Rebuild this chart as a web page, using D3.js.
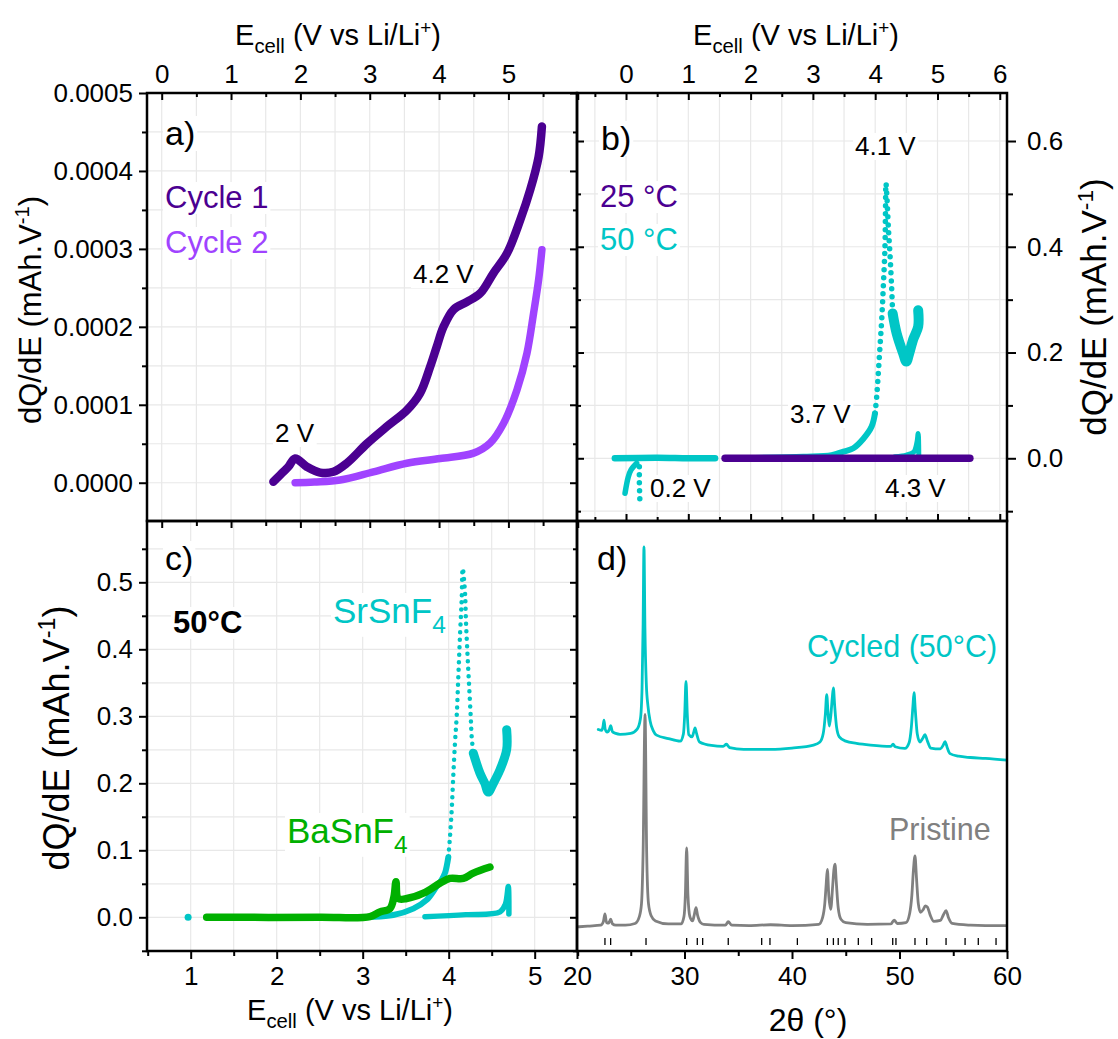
<!DOCTYPE html>
<html><head><meta charset="utf-8">
<script src="https://cdn.jsdelivr.net/npm/d3@7"></script>
<style>body{margin:0;background:#fff}</style>
</head><body>
<svg id="c" width="1118" height="1039" xmlns="http://www.w3.org/2000/svg"></svg>
<script>
// ---------------- DATA ----------------
// panel a : dQ/dE (mAh/V) vs Ecell (V)
const aCycle1 = [[1.61,0.0000013],[1.683,0.0000077],[1.755,0.0000140],[1.827,0.0000205],[1.924,0.0000310],[2.092,0.0000205],[2.284,0.0000130],[2.476,0.0000140],[2.669,0.0000250],[2.958,0.0000500],[3.247,0.0000720],[3.535,0.0000930],[3.727,0.0001150],[3.872,0.0001490],[3.968,0.0001750],[4.064,0.0002000],[4.208,0.0002220],[4.401,0.0002320],[4.593,0.0002430],[4.785,0.0002690],[4.978,0.0002940],[5.170,0.0003370],[5.315,0.0003760],[5.435,0.0004180],[5.483,0.0004570]];
const aCycle2 = [[1.924,0.0000000],[2.200,0.0000010],[2.573,0.0000035],[3.053,0.0000140],[3.535,0.0000250],[4.016,0.0000310],[4.497,0.0000380],[4.737,0.0000510],[4.929,0.0000760],[5.123,0.0001190],[5.267,0.0001660],[5.362,0.0002170],[5.435,0.0002600],[5.483,0.0002990]];
// panel b
const b25 = [[1.59,0],[3.0,0],[4.5,0],[5.52,0]];
const b50Low = [[-0.18,0],[0.5,0.001],[1.0,0],[1.43,0]];
const b50Dip = [[0.171,-0.0095],[0.080,-0.022],[0.037,-0.035],[-0.016,-0.066]];
const b50DipDots = [[0.214,-0.016],[0.214,-0.045],[0.222,-0.079]];
const b50Foot = [[1.60,0],[2.846,0.003],[3.300,0.006],[3.488,0.0125],[3.649,0.019],[3.810,0.037],[3.943,0.060],[3.997,0.085]];
const b50Peak = [[3.997,0.085],[4.024,0.116],[4.050,0.161],[4.077,0.211],[4.104,0.261],[4.130,0.324],[4.157,0.400],[4.165,0.463],[4.173,0.520],[4.190,0.490],[4.210,0.440],[4.240,0.380],[4.265,0.320],[4.280,0.274]];
const b50Valley = [[4.280,0.274],[4.345,0.236],[4.450,0.198],[4.500,0.183],[4.550,0.200],[4.610,0.225],[4.690,0.249],[4.690,0.280]];
const b50Spike = [[4.318,0.003],[4.500,0.006],[4.620,0.012],[4.670,0.030],[4.690,0.047],[4.700,0.005]];
// panel c
const cSrDot = [[0.97,0]];
const cSrFoot = [[1.20,0],[3.085,0.0005],[3.356,0.0034],[3.589,0.013],[3.744,0.026],[3.860,0.046],[3.918,0.056],[3.957,0.066],[3.996,0.090]];
const cSrPeak = [[3.996,0.090],[4.015,0.120],[4.035,0.160],[4.053,0.210],[4.073,0.260],[4.093,0.300],[4.112,0.359],[4.131,0.419],[4.151,0.474],[4.163,0.521],[4.190,0.484],[4.200,0.444],[4.216,0.399],[4.236,0.349],[4.256,0.300],[4.267,0.270],[4.286,0.245]];
const cSrValley = [[4.286,0.245],[4.364,0.215],[4.420,0.200],[4.460,0.187],[4.519,0.200],[4.596,0.220],[4.674,0.250],[4.674,0.280]];
const cSrSpike = [[3.724,0.001],[4.200,0.004],[4.597,0.008],[4.660,0.020],[4.693,0.046],[4.700,0.005]];
const cBa = [[1.186,0],[2.5,0],[3.085,0.001],[3.200,0.008],[3.317,0.013],[3.364,0.031],[3.387,0.053],[3.414,0.028],[3.512,0.028],[3.706,0.036],[3.899,0.051],[4.015,0.058],[4.170,0.058],[4.286,0.066],[4.480,0.075]];
// panel d : XRD intensity (a.u.) vs 2theta
const dCycled = [[21.98,51.5],[22.3,51.3],[22.42,52.2],[22.51,53.7],[22.62,51.6],[22.8,50.9],[23.02,51.6],[23.13,52.4],[23.3,51.0],[23.6,50.6],[24.0,50.4],[25.0,50.6],[25.6,51.6],[25.9,54],[26.05,61],[26.15,76],[26.23,94],[26.32,75],[26.45,62],[26.6,57],[26.8,53.5],[27.1,51.2],[27.4,50.2],[28.5,49.4],[29.6,48.8],[29.9,50.5],[30.02,55],[30.14,62.7],[30.26,55],[30.4,50.3],[30.7,49.8],[30.85,50.8],[30.98,51.9],[31.12,50.6],[31.4,48.6],[32.5,47.8],[33.6,47.6],[33.9,48.1],[34.2,47.3],[35.5,46.9],[38,46.9],[40,47.2],[42.0,47.9],[42.6,48.6],[42.9,50.5],[43.1,55],[43.23,59.6],[43.36,55],[43.47,52.3],[43.62,55],[43.75,59],[43.85,61.2],[43.97,57],[44.15,52],[44.4,49.8],[45.0,48.8],[46,48.3],[47.3,47.9],[49.2,47.6],[49.4,48.1],[49.6,47.5],[50.5,47.1],[50.9,48.5],[51.1,52],[51.25,57],[51.35,60.1],[51.47,56],[51.65,50.5],[51.9,48.6],[52.15,49.4],[52.37,50.3],[52.6,48.8],[52.9,47.2],[53.8,47.0],[54.05,47.8],[54.24,48.7],[54.45,47.2],[54.7,45.9],[55.5,45.3],[56.6,45.0],[58,44.8],[60,44.4]];
const dPristine = [[20,5.6],[21,5.8],[22.2,6.0],[22.45,6.8],[22.6,8.6],[22.75,6.6],[22.95,6.5],[23.13,7.4],[23.3,6.3],[23.6,6.0],[24.5,6.0],[25.4,6.4],[25.8,8],[26.0,11],[26.15,23],[26.33,55],[26.48,23],[26.65,11],[26.9,8.2],[27.3,7.0],[28.5,6.3],[29.7,6.3],[29.95,8],[30.08,13],[30.2,24],[30.32,13],[30.5,8],[30.75,7],[30.9,8.3],[31.07,10.1],[31.22,8.3],[31.5,6.6],[31.8,6.2],[33.8,6.0],[34.07,6.8],[34.4,6.0],[36,5.9],[38,6.1],[40,5.9],[42.5,6.2],[42.85,7.8],[43.05,11],[43.18,15.5],[43.29,19],[43.42,13],[43.6,9.7],[43.78,15],[43.9,19],[44.0,20.2],[44.12,16],[44.3,10],[44.55,7.4],[45,6.6],[47,6.2],[49.2,6.3],[49.5,7.2],[49.8,6.4],[50.6,6.6],[50.95,8.8],[51.15,13],[51.3,19],[51.44,22.1],[51.58,17],[51.75,11],[51.95,9],[52.2,9.6],[52.4,10.5],[52.6,10.2],[52.85,8.4],[53.2,6.9],[53.8,7.1],[54.1,8.5],[54.33,9.4],[54.55,7.8],[54.9,6.4],[56.6,6.0],[58,5.9],[60,5.9]];
const dReflections = [22.6,23.13,26.42,30.2,31.19,31.69,34.07,37.18,37.95,40.5,43.29,43.85,44.3,44.93,46.17,47.41,49.37,49.67,51.44,52.53,54.33,56.1,57.33,58.98];

// ticks
const aXMajor=[0,1,2,3,4,5,6], aXMinor=[0.5,1.5,2.5,3.5,4.5,5.5];
const aYMajor=[0,0.0001,0.0002,0.0003,0.0004,0.0005], aYMinor=[0.00005,0.00015,0.00025,0.00035,0.00045];
const bXMajor=[0,1,2,3,4,5,6], bXMinor=[-0.5,0.5,1.5,2.5,3.5,4.5,5.5];
const bYMajor=[0,0.2,0.4,0.6], bYMinor=[-0.1,0.1,0.3,0.5];
const cXMajor=[1,2,3,4,5], cXMinor=[0.5,1.5,2.5,3.5,4.5,5.5];
const cYMajor=[0,0.1,0.2,0.3,0.4,0.5], cYMinor=[-0.05,0.05,0.15,0.25,0.35,0.45,0.55];
const dXMajor=[20,30,40,50,60], dXMinor=[25,35,45,55];

// ---------------- LAYOUT ----------------
const FONT='"Liberation Sans", Arial, Helvetica, sans-serif';
const L=147, M=577, R=1007, T=93, H=521, B=951;
const C1="#4b0091", C2="#a043ff", CY="#00c6c6", GR="#00b000", GY="#808080";
const svg=d3.select('#c');

const xa=d3.scaleLinear().domain([-0.212,5.989]).range([L,M]);
const ya=d3.scaleLinear().domain([-0.0000491,0.0005]).range([H,T]);
const xb=d3.scaleLinear().domain([-0.787,6.116]).range([M,R]);
const yb=d3.scaleLinear().domain([-0.1186,0.6908]).range([H,T]);
const xc=d3.scaleLinear().domain([0.492,5.492]).range([L,M]);
const yc=d3.scaleLinear().domain([-0.0503,0.5915]).range([B,H]);
const xd=d3.scaleLinear().domain([20,60]).range([M,R]);
const yd=d3.scaleLinear().domain([0,100]).range([B,H]);

const gridG=svg.append('g');
function grid(xs,ys,xv,yv){
  const [x0,x1]=xs.range(), [y0,y1]=ys.range();
  xv.forEach(v=>gridG.append('line').attr('x1',xs(v)).attr('x2',xs(v)).attr('y1',y0).attr('y2',y1).attr('stroke','#e8e8e8').attr('stroke-width',1.2));
  yv.forEach(v=>gridG.append('line').attr('y1',ys(v)).attr('y2',ys(v)).attr('x1',x0).attr('x2',x1).attr('stroke','#e8e8e8').attr('stroke-width',1.2));
}
grid(xa,ya,[0,0.5,1,1.5,2,2.5,3,3.5,4,4.5,5,5.5],[0,0.00005,0.0001,0.00015,0.0002,0.00025,0.0003,0.00035,0.0004,0.00045]);
grid(xb,yb,[-0.5,0,0.5,1,1.5,2,2.5,3,3.5,4,4.5,5,5.5,6],[-0.1,0,0.1,0.2,0.3,0.4,0.5,0.6]);
grid(xc,yc,[1,1.5,2,2.5,3,3.5,4,4.5,5],[0,0.05,0.1,0.15,0.2,0.25,0.3,0.35,0.4,0.45,0.5,0.55]);

// label layer (white background boxes)
const labG=svg.append('g');
function richText(g,x,y,parts,fs,opts={}){
  const t=g.append('text').attr('x',x).attr('y',y).attr('font-family',FONT).attr('font-size',fs)
    .attr('fill',opts.color||'#000').attr('text-anchor',opts.anchor||'start').attr('font-weight',opts.bold?'bold':null);
  if(opts.transform) t.attr('transform',opts.transform);
  let shift=0;
  parts.forEach(p=>{
    const [s,k]=Array.isArray(p)?p:[p,null];
    let target=0, size=fs;
    if(k==='sub'){target=0.28*fs; size=0.7*fs;}
    if(k==='sup'){target=-0.38*fs; size=0.65*fs;}
    t.append('tspan').attr('dy',target-shift).attr('font-size',size).text(s);
    shift=target;
  });
  return t;
}
function boxed(x,y,parts,fs,opts={}){
  const t=richText(labG,x,y,parts,fs,opts);
  const bb=t.node().getBBox();
  labG.insert('rect',()=>t.node()).attr('x',bb.x-2).attr('y',bb.y+2).attr('width',bb.width+4).attr('height',bb.height-3).attr('fill','#fff');
  return t;
}

// ---------------- CURVES ----------------
const curveG=svg.append('g');
function clip(id,x,y,w,h){svg.append('clipPath').attr('id',id).append('rect').attr('x',x).attr('y',y).attr('width',w).attr('height',h);}
clip('ca',L,T,M-L,H-T);clip('cb',M,T,R-M,H-T);clip('cc',L,H,M-L,B-H);clip('cd',M,H,R-M,B-H);
function draw(cid,data,xs,ys,color,w,dots,curve){
  const line=d3.line().x(d=>xs(d[0])).y(d=>ys(d[1])).curve(curve||d3.curveCatmullRom.alpha(0.5));
  curveG.append('path').datum(data).attr('clip-path',`url(#${cid})`).attr('d',line).attr('fill','none')
    .attr('stroke',color).attr('stroke-width',w).attr('stroke-linecap','round').attr('stroke-linejoin','round')
    .attr('stroke-dasharray',dots?`0 ${dots}`:null);
}
function dot(cid,data,xs,ys,color,r){
  curveG.selectAll(null).data(data).enter().append('circle').attr('clip-path',`url(#${cid})`)
    .attr('cx',d=>xs(d[0])).attr('cy',d=>ys(d[1])).attr('r',r).attr('fill',color);
}
// a
draw('ca',aCycle2,xa,ya,C2,7.5);
draw('ca',aCycle1,xa,ya,C1,8.5);
// b
draw('cb',b50Low,xb,yb,CY,6.5);
draw('cb',b50Dip,xb,yb,CY,5.5);
draw('cb',b50DipDots,xb,yb,CY,5.5,8);
draw('cb',b50Foot,xb,yb,CY,6);
draw('cb',b50Peak,xb,yb,CY,5.5,8);
draw('cb',b50Valley,xb,yb,CY,10);
draw('cb',b50Spike,xb,yb,CY,5);
draw('cb',b25,xb,yb,C1,7.5);
// c
dot('cc',cSrDot,xc,yc,CY,3.5);
draw('cc',cSrFoot,xc,yc,CY,6);
draw('cc',cSrPeak,xc,yc,CY,4.5,7.5);
draw('cc',cSrValley,xc,yc,CY,9);
draw('cc',cSrSpike,xc,yc,CY,5.5);
draw('cc',cBa,xc,yc,GR,7.5);
// d
draw('cd',dCycled,xd,yd,CY,2.8,null,d3.curveMonotoneX);
draw('cd',dPristine,xd,yd,GY,2.8,null,d3.curveMonotoneX);
curveG.selectAll(null).data(dReflections).enter().append('line')
  .attr('x1',d=>xd(d)).attr('x2',d=>xd(d)).attr('y1',yd(1.4)).attr('y2',yd(3.0)).attr('stroke','#000').attr('stroke-width',1.3);

svg.node().appendChild(labG.node());

// ---------------- AXES ----------------
const axG=svg.append('g');
function ax(fn,scale,vals,size,pad,fmt,x,y,fs){
  const a=fn(scale).tickValues(vals).tickSize(size).tickPadding(pad).tickFormat(fmt||(()=>''));
  const s=axG.append('g').attr('transform',`translate(${x},${y})`).call(a);
  s.select('.domain').remove();
  s.selectAll('line').attr('stroke','#000').attr('stroke-width',2);
  s.selectAll('text').attr('font-size',fs||26).attr('font-family',FONT).attr('fill','#000');
  return s;
}
// panel a
ax(d3.axisLeft,ya,aYMajor,8,6,d3.format('.4f'),L,0);
ax(d3.axisLeft,ya,aYMinor,5,6,null,L,0);
ax(d3.axisTop,xa,aXMajor,-7,10,d=>d===6?'':d3.format('d')(d),0,T);
ax(d3.axisTop,xa,aXMinor,-4,10,null,0,T);
ax(d3.axisRight,ya,aYMajor,-7,0,null,M,0);
ax(d3.axisRight,ya,aYMinor,-4,0,null,M,0);
ax(d3.axisBottom,xa,aXMajor,7,0,null,0,H);
ax(d3.axisBottom,xa,aXMinor,5,0,null,0,H);
// panel b
ax(d3.axisRight,yb,bYMajor,9,11,d3.format('.1f'),R,0);
ax(d3.axisRight,yb,bYMinor,6,0,null,R,0);
ax(d3.axisTop,xb,bXMajor,-7,10,d3.format('d'),0,T);
ax(d3.axisTop,xb,bXMinor,-4,10,null,0,T);
ax(d3.axisLeft,yb,bYMajor,-7,0,null,M,0);
ax(d3.axisLeft,yb,bYMinor,-4,0,null,M,0);
ax(d3.axisBottom,xb,bXMajor,-7,0,null,0,H);
ax(d3.axisBottom,xb,bXMinor,-4,0,null,0,H);
// panel c
ax(d3.axisLeft,yc,cYMajor,8,6,d3.format('.1f'),L,0);
ax(d3.axisLeft,yc,cYMinor,5,6,null,L,0);
ax(d3.axisBottom,xc,cXMajor,8,8,d3.format('d'),0,B);
ax(d3.axisBottom,xc,cXMinor,5,8,null,0,B);
ax(d3.axisRight,yc,cYMajor,-7,0,null,M,0);
ax(d3.axisRight,yc,cYMinor,-4,0,null,M,0);
// panel d
ax(d3.axisBottom,xd,dXMajor,8,8,d3.format('d'),0,B);
ax(d3.axisBottom,xd,dXMinor,5,8,null,0,B);

// frames
[[L,T,M-L,H-T],[M,T,R-M,H-T],[L,H,M-L,B-H],[M,H,R-M,B-H]].forEach(r=>
  axG.append('rect').attr('x',r[0]).attr('y',r[1]).attr('width',r[2]).attr('height',r[3]).attr('fill','none').attr('stroke','#000').attr('stroke-width',2.5));

// ---------------- TITLES ----------------
const ecell=['E',['cell','sub'],' (V vs Li/Li',['+','sup'],')'];
const dqde=['dQ/dE (mAh.V',['-1','sup'],')'];
richText(axG,338,45,ecell,29,{anchor:'middle'});
richText(axG,796,45,ecell,29,{anchor:'middle'});
richText(axG,350,1020,ecell,29,{anchor:'middle'});
richText(axG,808,1031,['2θ (°)'],32,{anchor:'middle'});
richText(axG,0,0,dqde,31,{anchor:'middle',transform:'translate(41,310) rotate(-90)'});
richText(axG,0,0,dqde,36,{anchor:'middle',transform:'translate(69,738) rotate(-90)'});
richText(axG,0,0,dqde,35,{anchor:'middle',transform:'translate(1106,307) rotate(-90)'});

// ---------------- ANNOTATIONS ----------------
boxed(165,145,['a)'],34);
boxed(165,208,['Cycle 1'],31,{color:C1});
boxed(165,253,['Cycle 2'],31,{color:C2});
boxed(413,283,['4.2 V'],26);
boxed(275,442,['2 V'],26);
boxed(601,150,['b)'],34);
boxed(600,207,['25 °C'],31,{color:C1});
boxed(600,250,['50 °C'],31,{color:CY});
boxed(855,155,['4.1 V'],26);
boxed(790,423,['3.7 V'],26);
boxed(650,497,['0.2 V'],26);
boxed(885,497,['4.3 V'],26);
boxed(165,570,['c)'],34);
boxed(173,633,['50°C'],31,{bold:true});
boxed(333,623,['SrSnF',['4','sub']],35,{color:CY});
boxed(287,843,['BaSnF',['4','sub']],35,{color:GR});
boxed(597,570,['d)'],34);
boxed(807,657,['Cycled (50°C)'],30.5,{color:CY});
boxed(889,840,['Pristine'],30.5,{color:GY});
</script>
</body></html>
